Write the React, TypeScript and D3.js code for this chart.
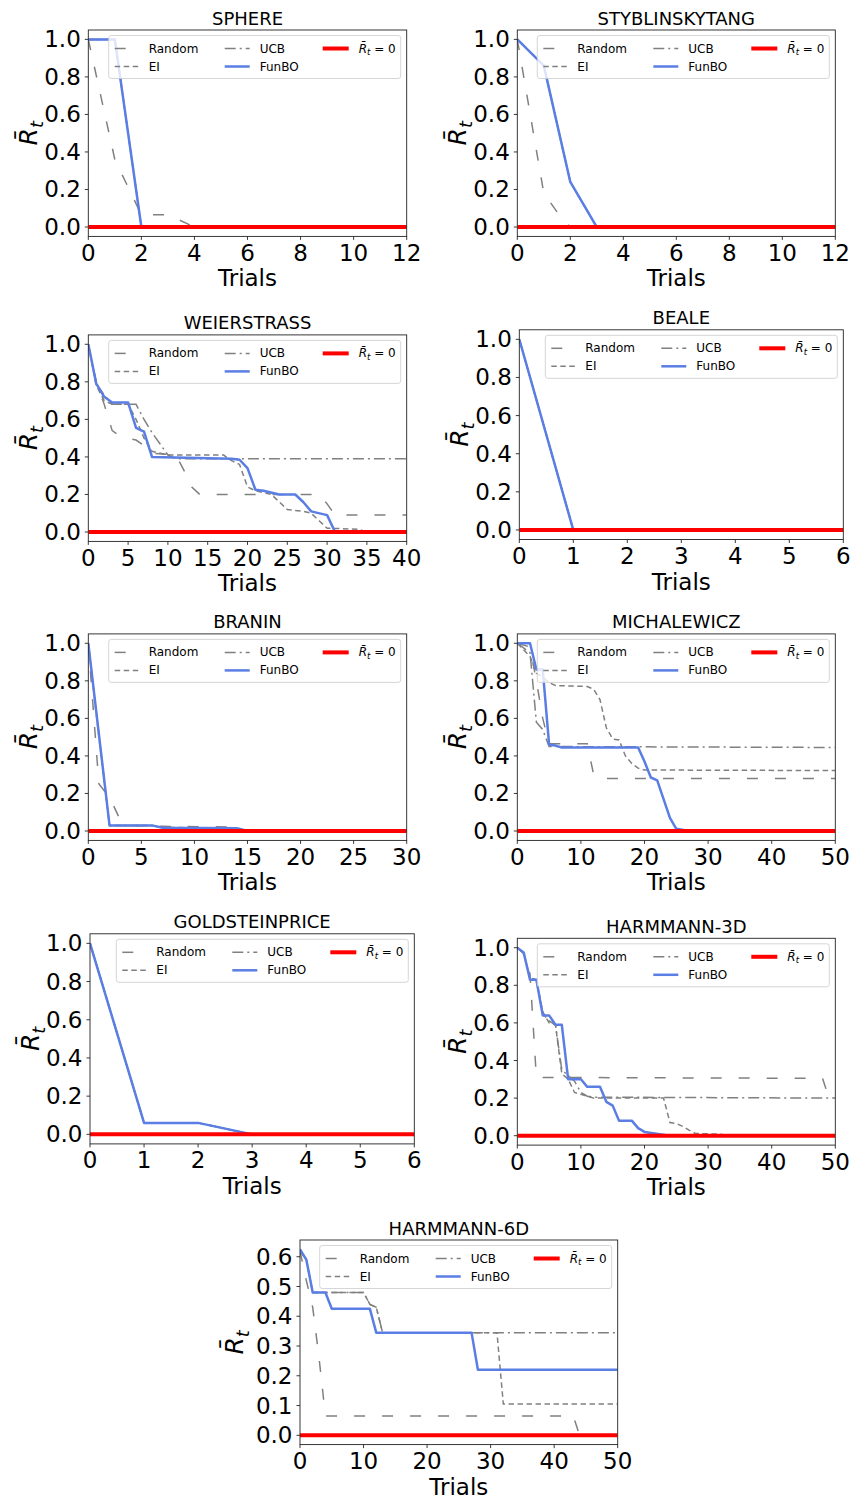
import React from 'react';
import * as d3 from 'd3';

type Pt = [number, number];

// ---------- data (trial, normalised regret) ----------
const sphereRandom: Pt[] = [[0, 1], [1, 0.36], [2, 0.065], [3, 0.065], [4, 0], [12, 0]];
const sphereEI: Pt[] = [[0, 1], [1, 1], [2, 0], [12, 0]];
const sphereUCB: Pt[] = [[0, 1], [1, 1], [2, 0], [12, 0]];
const sphereFunBO: Pt[] = [[0, 1], [1, 1], [2, 0], [12, 0]];

const stybRandom: Pt[] = [[0, 1], [1, 0.18], [1.5, 0.08], [2, 0], [12, 0]];
const stybEI: Pt[] = [[0, 1], [1, 0.86], [2, 0.24], [3, 0], [12, 0]];
const stybUCB: Pt[] = [[0, 1], [1, 0.86], [2, 0.24], [3, 0], [12, 0]];
const stybFunBO: Pt[] = [[0, 1], [1, 0.86], [2, 0.24], [3, 0], [12, 0]];

const weierRandom: Pt[] = [[0, 1], [1, 0.8], [2, 0.68], [3, 0.54], [4, 0.51], [5, 0.5], [6, 0.49], [7, 0.46], [8, 0.42], [11, 0.41], [12, 0.33], [13, 0.24], [14, 0.2], [29, 0.2], [30, 0.15], [31, 0.09], [40, 0.09]];
const weierEI: Pt[] = [[0, 1], [1, 0.78], [2, 0.7], [3, 0.68], [5, 0.68], [6, 0.6], [7, 0.5], [8, 0.43], [10, 0.41], [17, 0.41], [18, 0.38], [19, 0.36], [20, 0.24], [21, 0.22], [23, 0.2], [24, 0.16], [25, 0.12], [27, 0.11], [28, 0.1], [29, 0.06], [30, 0.02], [34, 0.015], [35, 0], [40, 0]];
const weierUCB: Pt[] = [[0, 1], [1, 0.79], [2, 0.73], [3, 0.68], [6, 0.68], [7, 0.6], [8, 0.53], [9, 0.47], [10, 0.41], [11, 0.39], [40, 0.39]];
const weierFunBO: Pt[] = [[0, 1], [1, 0.79], [2, 0.72], [3, 0.69], [5, 0.69], [6, 0.555], [7, 0.535], [8, 0.4], [18, 0.39], [19, 0.385], [20, 0.34], [21, 0.225], [22, 0.22], [24, 0.2], [26, 0.2], [27, 0.16], [28, 0.11], [30, 0.09], [31, 0], [40, 0]];

const bealeRandom: Pt[] = [[0, 1], [1, 0], [6, 0]];
const bealeEI: Pt[] = [[0, 1], [1, 0], [6, 0]];
const bealeUCB: Pt[] = [[0, 1], [1, 0], [6, 0]];
const bealeFunBO: Pt[] = [[0, 1], [1, 0], [6, 0]];

const braninRandom: Pt[] = [[0, 1], [1, 0.25], [2, 0.18], [3, 0.06], [4, 0.03], [7, 0.025], [13, 0.022], [14, 0.01], [15, 0], [30, 0]];
const braninEI: Pt[] = [[0, 1], [1, 0.5], [2, 0.03], [6, 0.03], [7, 0.02], [14, 0.015], [15, 0], [30, 0]];
const braninUCB: Pt[] = [[0, 1], [2, 0.03], [6, 0.03], [7, 0.017], [14, 0.015], [15, 0], [30, 0]];
const braninFunBO: Pt[] = [[0, 1], [2, 0.03], [6, 0.03], [7, 0.017], [14, 0.015], [15, 0], [30, 0]];

const michRandom: Pt[] = [[0, 1], [2, 0.98], [3, 0.8], [4, 0.6], [5, 0.465], [11, 0.465], [12, 0.3], [13, 0.28], [50, 0.28]];
const michEI: Pt[] = [[0, 1], [2, 0.93], [3, 0.84], [4, 0.82], [5, 0.79], [6, 0.775], [11, 0.77], [12, 0.755], [13, 0.7], [14, 0.55], [15, 0.49], [16, 0.485], [17, 0.4], [18, 0.36], [19, 0.335], [20, 0.325], [50, 0.322]];
const michUCB: Pt[] = [[0, 1], [2, 0.95], [3, 0.58], [4, 0.54], [5, 0.45], [50, 0.445]];
const michFunBO: Pt[] = [[0, 1], [2, 1], [3, 0.86], [4, 0.86], [5, 0.46], [6, 0.455], [7, 0.445], [19, 0.445], [20, 0.37], [21, 0.285], [22, 0.27], [23, 0.17], [24, 0.07], [25, 0.012], [27, 0], [50, 0]];

const goldRandom: Pt[] = [[0, 1], [1, 0.06], [2, 0.06], [3, 0], [6, 0]];
const goldEI: Pt[] = [[0, 1], [1, 0.06], [2, 0.06], [3, 0], [6, 0]];
const goldUCB: Pt[] = [[0, 1], [1, 0.06], [2, 0.06], [3, 0], [6, 0]];
const goldFunBO: Pt[] = [[0, 1], [1, 0.06], [2, 0.06], [3, 0], [6, 0]];

const h3Random: Pt[] = [[0, 1], [1, 0.97], [2, 0.86], [3, 0.31], [48, 0.305], [49, 0.2], [50, 0.2]];
const h3EI: Pt[] = [[0, 1], [1, 0.97], [2, 0.84], [3, 0.83], [4, 0.66], [5, 0.6], [6, 0.59], [7, 0.33], [8, 0.3], [9, 0.23], [10, 0.22], [11, 0.21], [12, 0.2], [23, 0.2], [24, 0.07], [25, 0.065], [26, 0.05], [27, 0.03], [28, 0.012], [32, 0.008], [33, 0], [50, 0]];
const h3UCB: Pt[] = [[0, 1], [1, 0.97], [2, 0.84], [3, 0.83], [4, 0.65], [5, 0.61], [6, 0.59], [7, 0.35], [8, 0.32], [9, 0.29], [10, 0.23], [11, 0.21], [12, 0.205], [50, 0.2]];
const h3FunBO: Pt[] = [[0, 1], [1, 0.975], [2, 0.83], [3, 0.83], [4, 0.64], [5, 0.64], [6, 0.59], [7, 0.59], [8, 0.3], [10, 0.3], [11, 0.26], [13, 0.26], [14, 0.18], [15, 0.16], [16, 0.08], [18, 0.08], [19, 0.04], [20, 0.02], [24, 0], [50, 0]];

const h6Random: Pt[] = [[0, 0.62], [1, 0.52], [2, 0.43], [3, 0.26], [4, 0.065], [43, 0.065], [44, 0], [50, 0]];
const h6EI: Pt[] = [[0, 0.62], [1, 0.59], [2, 0.48], [10, 0.48], [11, 0.44], [12, 0.43], [13, 0.345], [31, 0.345], [32, 0.105], [50, 0.105]];
const h6UCB: Pt[] = [[0, 0.62], [1, 0.59], [2, 0.48], [10, 0.48], [11, 0.44], [12, 0.43], [13, 0.345], [50, 0.345]];
const h6FunBO: Pt[] = [[0, 0.625], [1, 0.59], [2, 0.48], [4, 0.48], [5, 0.425], [11, 0.425], [12, 0.345], [27, 0.345], [28, 0.22], [50, 0.22]];

const titles = ['SPHERE', 'STYBLINSKYTANG', 'WEIERSTRASS', 'BEALE', 'BRANIN', 'MICHALEWICZ', 'GOLDSTEINPRICE', 'HARMMANN-3D', 'HARMMANN-6D'];
const xTickSets = [
  [0, 2, 4, 6, 8, 10, 12],
  [0, 2, 4, 6, 8, 10, 12],
  [0, 5, 10, 15, 20, 25, 30, 35, 40],
  [0, 1, 2, 3, 4, 5, 6],
  [0, 5, 10, 15, 20, 25, 30],
  [0, 10, 20, 30, 40, 50],
  [0, 1, 2, 3, 4, 5, 6],
  [0, 10, 20, 30, 40, 50],
  [0, 10, 20, 30, 40, 50],
];
const yTicksUnit = [0, 0.2, 0.4, 0.6, 0.8, 1.0];
const yTicksH6 = [0, 0.1, 0.2, 0.3, 0.4, 0.5, 0.6];
const legendLabels = ['Random', 'EI', 'UCB', 'FunBO'];

// ---------- layout / style ----------
const FONT = '"DejaVu Sans", Verdana, sans-serif';
const GRAY = '#808080';
const BLUE = '#5a7ee3';
const RED = '#ff0000';
const DASH_RANDOM = '11,17';
const DASH_EI = '5.5,3.5';
const DASH_UCB = '11,4,2,4';
const TICK_FS = 23;

const boxes = [
  { left: 88.3, right: 406.7, top: 30, bottom: 236.4, yl: 51 },
  { left: 517.3, right: 835.3, top: 30, bottom: 236.4, yl: 51 },
  { left: 88.3, right: 406.7, top: 334.9, bottom: 541.4, yl: 51 },
  { left: 519.3, right: 843.3, top: 329.8, bottom: 539.5, yl: 51 },
  { left: 88.3, right: 406.7, top: 633.9, bottom: 840.4, yl: 51 },
  { left: 517.3, right: 835.3, top: 633.9, bottom: 840.4, yl: 51 },
  { left: 90, right: 414.3, top: 933.8, bottom: 1143.9, yl: 51 },
  { left: 517.3, right: 835.3, top: 938.3, bottom: 1145.1, yl: 51 },
  { left: 300, right: 617.7, top: 1240, bottom: 1444.6, yl: 57 },
];

const series = [
  [sphereRandom, sphereEI, sphereUCB, sphereFunBO],
  [stybRandom, stybEI, stybUCB, stybFunBO],
  [weierRandom, weierEI, weierUCB, weierFunBO],
  [bealeRandom, bealeEI, bealeUCB, bealeFunBO],
  [braninRandom, braninEI, braninUCB, braninFunBO],
  [michRandom, michEI, michUCB, michFunBO],
  [goldRandom, goldEI, goldUCB, goldFunBO],
  [h3Random, h3EI, h3UCB, h3FunBO],
  [h6Random, h6EI, h6UCB, h6FunBO],
];

function RBar({ size }: { size: number }) {
  return (
    <>
      <tspan fontStyle="italic">{'R\u0304'}</tspan>
      <tspan fontStyle="italic" fontSize={size * 0.72} dy={size * 0.22}>t</tspan>
    </>
  );
}

function Legend({ L, T }: { L: number; T: number }) {
  const W = 292, H = 43;
  const rows = [T + 13, T + 31];
  return (
    <g fontFamily={FONT} fontSize={12}>
      <rect x={L} y={T} width={W} height={H} rx={2.5} fill="white" fillOpacity={0.8} stroke="#cccccc" strokeWidth={0.8} />
      <line x1={L + 6} x2={L + 30} y1={rows[0]} y2={rows[0]} stroke={GRAY} strokeWidth={1.5} strokeDasharray={DASH_RANDOM} />
      <text x={L + 40} y={rows[0]} dominantBaseline="central">{legendLabels[0]}</text>
      <line x1={L + 6} x2={L + 30} y1={rows[1]} y2={rows[1]} stroke={GRAY} strokeWidth={1.5} strokeDasharray={DASH_EI} />
      <text x={L + 40} y={rows[1]} dominantBaseline="central">{legendLabels[1]}</text>
      <line x1={L + 116} x2={L + 141} y1={rows[0]} y2={rows[0]} stroke={GRAY} strokeWidth={1.5} strokeDasharray={DASH_UCB} />
      <text x={L + 151} y={rows[0]} dominantBaseline="central">{legendLabels[2]}</text>
      <line x1={L + 116} x2={L + 141} y1={rows[1]} y2={rows[1]} stroke={BLUE} strokeWidth={2.5} />
      <text x={L + 151} y={rows[1]} dominantBaseline="central">{legendLabels[3]}</text>
      <line x1={L + 214} x2={L + 240} y1={rows[0]} y2={rows[0]} stroke={RED} strokeWidth={4} />
      <text x={L + 250} y={rows[0] + 4}>
        <RBar size={12} />
        <tspan dy={-12 * 0.22}>{' = 0'}</tspan>
      </text>
    </g>
  );
}

function Panel({ i }: { i: number }) {
  const b = boxes[i];
  const xTicks = xTickSets[i];
  const xMax = xTicks[xTicks.length - 1];
  const isH6 = i === 8;
  const yTicks = isH6 ? yTicksH6 : yTicksUnit;
  const [rnd, ei, ucb, fb] = series[i];
  const allY = [...rnd, ...ei, ...ucb, ...fb].map(d => d[1]);
  const yMaxData = d3.max(allY) as number;
  const pad = 0.05 * yMaxData;
  const x = d3.scaleLinear().domain([0, xMax]).range([b.left, b.right]);
  const y = d3.scaleLinear().domain([-pad, yMaxData + pad]).range([b.bottom, b.top]);
  const line = d3.line<Pt>().x(d => x(d[0])).y(d => y(d[1]));
  const clipId = `clip${i}`;
  const cx = (b.left + b.right) / 2;
  const cy = (b.top + b.bottom) / 2;
  return (
    <g fontFamily={FONT}>
      <defs>
        <clipPath id={clipId}>
          <rect x={b.left} y={b.top} width={b.right - b.left} height={b.bottom - b.top} />
        </clipPath>
      </defs>
      <g clipPath={`url(#${clipId})`} fill="none">
        <path d={line(rnd) || ''} stroke={GRAY} strokeWidth={1.5} strokeDasharray={DASH_RANDOM} />
        <path d={line(ei) || ''} stroke={GRAY} strokeWidth={1.5} strokeDasharray={DASH_EI} />
        <path d={line(ucb) || ''} stroke={GRAY} strokeWidth={1.5} strokeDasharray={DASH_UCB} />
        <path d={line(fb) || ''} stroke={BLUE} strokeWidth={2.5} strokeLinejoin="round" />
        <line x1={x(0)} x2={x(xMax)} y1={y(0)} y2={y(0)} stroke={RED} strokeWidth={4} />
      </g>
      <rect x={b.left} y={b.top} width={b.right - b.left} height={b.bottom - b.top} fill="none" stroke="#222" strokeWidth={0.9} />
      {xTicks.map(t => (
        <g key={`x${t}`}>
          <line x1={x(t)} x2={x(t)} y1={b.bottom} y2={b.bottom + 3.5} stroke="#222" strokeWidth={0.9} />
          <text x={x(t)} y={b.bottom + 24.5} fontSize={TICK_FS} textAnchor="middle">{t}</text>
        </g>
      ))}
      {yTicks.map(t => (
        <g key={`y${t}`}>
          <line x1={b.left - 3.5} x2={b.left} y1={y(t)} y2={y(t)} stroke="#222" strokeWidth={0.9} />
          <text x={b.left - 7.5} y={y(t)} fontSize={TICK_FS} textAnchor="end" dominantBaseline="central">{t.toFixed(1)}</text>
        </g>
      ))}
      <text x={cx} y={b.top - 5.5} fontSize={18} textAnchor="middle">{titles[i]}</text>
      <text x={cx} y={b.bottom + 50} fontSize={TICK_FS} textAnchor="middle">Trials</text>
      <text transform={`translate(${b.left - b.yl},${cy}) rotate(-90)`} fontSize={25} textAnchor="middle">
        <RBar size={25} />
      </text>
      <Legend L={b.right - 6 - 292} T={b.top + 5.5} />
    </g>
  );
}

export default function App() {
  return (
    <svg width={853} height={1498} style={{ position: 'absolute', left: 0, top: 0, background: 'white' }}>
      <rect x={0} y={0} width={853} height={1498} fill="white" />
      {titles.map((_, i) => <Panel key={i} i={i} />)}
    </svg>
  );
}
